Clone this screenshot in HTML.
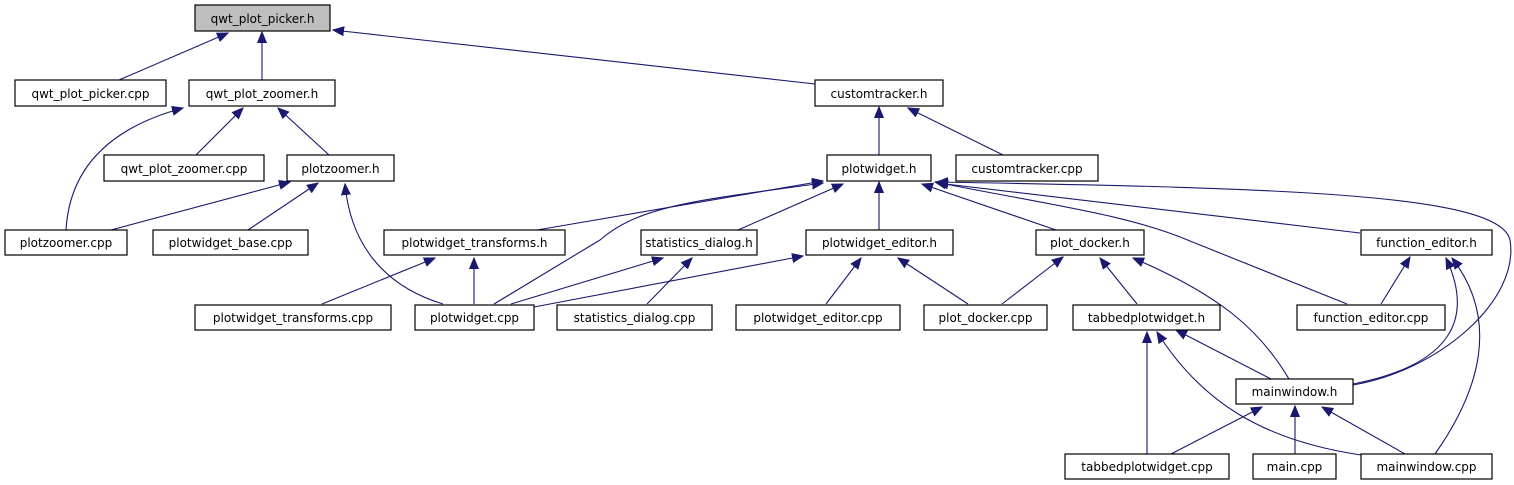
<!DOCTYPE html>
<html><head><meta charset="utf-8"><style>
html,body{margin:0;padding:0;background:#fff;}
svg{display:block;}
text{font-family:"DejaVu Sans","Liberation Sans",sans-serif;font-size:12px;fill:#000;}
</style></head><body>
<svg width="1514" height="485" viewBox="0 0 1514 485" xmlns="http://www.w3.org/2000/svg">
<defs>
<marker id="a" markerUnits="userSpaceOnUse" markerWidth="12" markerHeight="10" refX="11" refY="4.5" orient="auto-start-reverse" viewBox="0 0 12 9">
<path d="M11,4.5 L0,0 L0,9 Z" fill="#191970" stroke="#191970"/>
</marker>
</defs>
<g fill="none" stroke="#191970" stroke-width="1.1" marker-start="url(#a)">
<path d="M228,33 L119,80"/>
<path d="M262,32 L262,80"/>
<path d="M333,30 L815,84"/>
<path d="M183,108 C120,125 70,160 66,230"/>
<path d="M243,108 L196,155"/>
<path d="M278,108 L329,155"/>
<path d="M879,107 L879,155"/>
<path d="M908,108 L1003,155"/>
<path d="M290,182 L111,230"/>
<path d="M318,183 L248,230"/>
<path d="M345,184 C350,240 380,285 443,304"/>
<path d="M823,181 L537,230"/>
<path d="M823,183 C700,200 640,205 600,240 L494,304"/>
<path d="M843,184 L738,230"/>
<path d="M879,182 L879,230"/>
<path d="M922,184 L1056,230"/>
<path d="M935,182 C1050,205 1130,215 1190,241 L1347,304"/>
<path d="M937,183 L1360,233"/>
<path d="M937,182 C1300,188 1500,195 1510,240 C1520,300 1440,370 1353,385"/>
<path d="M435,258 L322,304"/>
<path d="M474,258 L474,304"/>
<path d="M663,258 L511,304"/>
<path d="M692,258 L647,304"/>
<path d="M803,256 L534,307"/>
<path d="M861,258 L826,304"/>
<path d="M898,258 L968,304"/>
<path d="M1063,257 L1002,304"/>
<path d="M1100,258 L1137,304"/>
<path d="M1133,258 C1220,295 1260,330 1289,379"/>
<path d="M1410,257 L1381,304"/>
<path d="M1446,258 C1475,320 1450,365 1353,384"/>
<path d="M1452,258 C1500,320 1480,390 1435,454"/>
<path d="M1147,332 L1147,454"/>
<path d="M1157,332 C1200,400 1260,440 1361,455"/>
<path d="M1176,330 L1271,379"/>
<path d="M1262,407 L1171,454"/>
<path d="M1295,406 L1295,454"/>
<path d="M1322,407 L1405,454"/>
</g>
<g stroke="#000" stroke-width="1.2">
<rect x="195" y="5" width="135" height="26" fill="#bfbfbf"/>
<rect x="15" y="80" width="151" height="26" fill="#fff"/>
<rect x="189" y="80" width="146" height="26" fill="#fff"/>
<rect x="815" y="80" width="128" height="26" fill="#fff"/>
<rect x="104" y="155" width="160" height="26" fill="#fff"/>
<rect x="287" y="155" width="107" height="26" fill="#fff"/>
<rect x="827" y="155" width="104" height="26" fill="#fff"/>
<rect x="956" y="155" width="142" height="26" fill="#fff"/>
<rect x="5" y="230" width="122" height="25" fill="#fff"/>
<rect x="153" y="230" width="155" height="25" fill="#fff"/>
<rect x="384" y="230" width="181" height="25" fill="#fff"/>
<rect x="641" y="230" width="116" height="25" fill="#fff"/>
<rect x="806" y="230" width="147" height="25" fill="#fff"/>
<rect x="1036" y="230" width="108" height="25" fill="#fff"/>
<rect x="1361" y="230" width="131" height="25" fill="#fff"/>
<rect x="195" y="305" width="196" height="25" fill="#fff"/>
<rect x="415" y="305" width="119" height="25" fill="#fff"/>
<rect x="557" y="305" width="155" height="25" fill="#fff"/>
<rect x="736" y="305" width="164" height="25" fill="#fff"/>
<rect x="924" y="305" width="123" height="25" fill="#fff"/>
<rect x="1073" y="305" width="147" height="25" fill="#fff"/>
<rect x="1297" y="305" width="148" height="25" fill="#fff"/>
<rect x="1236" y="379" width="117" height="25" fill="#fff"/>
<rect x="1065" y="454" width="164" height="25" fill="#fff"/>
<rect x="1253" y="454" width="83" height="25" fill="#fff"/>
<rect x="1361" y="454" width="131" height="25" fill="#fff"/>
</g>
<g text-anchor="middle">
<text x="262.5" y="23">qwt_plot_picker.h</text>
<text x="90.5" y="98">qwt_plot_picker.cpp</text>
<text x="262" y="98">qwt_plot_zoomer.h</text>
<text x="879" y="98">customtracker.h</text>
<text x="184" y="173">qwt_plot_zoomer.cpp</text>
<text x="340.5" y="173">plotzoomer.h</text>
<text x="879" y="173">plotwidget.h</text>
<text x="1027" y="173">customtracker.cpp</text>
<text x="66" y="247">plotzoomer.cpp</text>
<text x="230.5" y="247">plotwidget_base.cpp</text>
<text x="474.5" y="247">plotwidget_transforms.h</text>
<text x="699" y="247">statistics_dialog.h</text>
<text x="879.5" y="247">plotwidget_editor.h</text>
<text x="1090" y="247">plot_docker.h</text>
<text x="1426.5" y="247">function_editor.h</text>
<text x="293" y="322">plotwidget_transforms.cpp</text>
<text x="474.5" y="322">plotwidget.cpp</text>
<text x="634.5" y="322">statistics_dialog.cpp</text>
<text x="818" y="322">plotwidget_editor.cpp</text>
<text x="985.5" y="322">plot_docker.cpp</text>
<text x="1146.5" y="322">tabbedplotwidget.h</text>
<text x="1371" y="322">function_editor.cpp</text>
<text x="1294.5" y="396">mainwindow.h</text>
<text x="1147" y="471">tabbedplotwidget.cpp</text>
<text x="1294.5" y="471">main.cpp</text>
<text x="1426.5" y="471">mainwindow.cpp</text>
</g>
</svg>
</body></html>
